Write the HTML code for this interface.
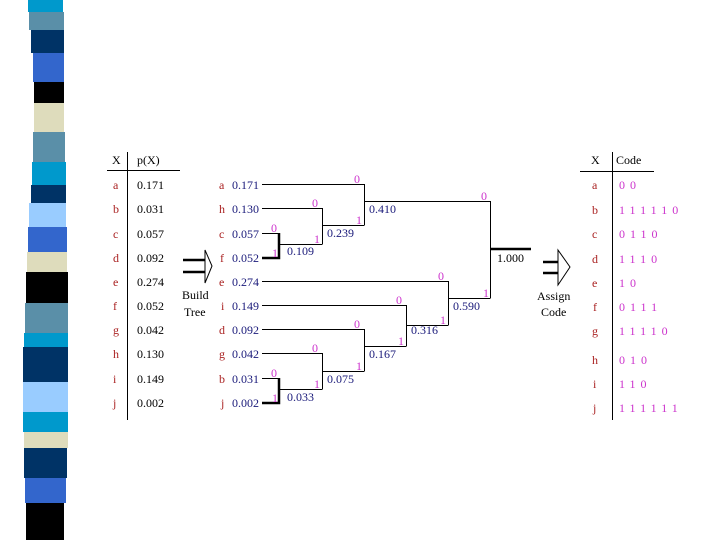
<!DOCTYPE html>
<html><head><style>
body{margin:0;width:720px;height:540px;background:#fff;overflow:hidden}
svg{display:block}
text{font-family:"Liberation Serif",serif;font-size:12px}
.r{fill:#aa2222}.n{fill:#1a1a7a}.m{fill:#cc33cc}.k{fill:#000}
</style></head><body>
<svg width="720" height="540" viewBox="0 0 720 540">
<g>
<rect x="28" y="0" width="35" height="12" fill="#0099cc"/>
<rect x="29" y="12" width="35" height="18" fill="#5a8fa8"/>
<rect x="31" y="30" width="33" height="23" fill="#003366"/>
<rect x="33" y="53" width="31" height="29" fill="#3366cc"/>
<rect x="34" y="82" width="30" height="21" fill="#000"/>
<rect x="34" y="103" width="30" height="29" fill="#dedcbc"/>
<rect x="33" y="132" width="32" height="30" fill="#5a8fa8"/>
<rect x="32" y="162" width="34" height="23" fill="#0099cc"/>
<rect x="31" y="185" width="35" height="18" fill="#003366"/>
<rect x="29" y="203" width="37" height="24" fill="#99ccff"/>
<rect x="28" y="227" width="39" height="25" fill="#3366cc"/>
<rect x="27" y="252" width="40" height="20" fill="#dedcbc"/>
<rect x="26" y="272" width="42" height="31" fill="#000"/>
<rect x="25" y="303" width="43" height="30" fill="#5a8fa8"/>
<rect x="24" y="333" width="44" height="14" fill="#0099cc"/>
<rect x="23" y="347" width="45" height="35" fill="#003366"/>
<rect x="23" y="382" width="45" height="30" fill="#99ccff"/>
<rect x="23" y="412" width="45" height="20" fill="#0099cc"/>
<rect x="24" y="432" width="44" height="16" fill="#dedcbc"/>
<rect x="24" y="448" width="43" height="30" fill="#003366"/>
<rect x="25" y="478" width="41" height="25" fill="#3366cc"/>
<rect x="26" y="503" width="38" height="37" fill="#000"/>
</g>
<g shape-rendering="crispEdges">
<line x1="107" y1="170.5" x2="180" y2="170.5" stroke="#000"/>
<line x1="127.5" y1="152" x2="127.5" y2="420" stroke="#000"/>
<line x1="580" y1="171.5" x2="654" y2="171.5" stroke="#000"/>
<line x1="612.5" y1="152" x2="612.5" y2="420" stroke="#000"/>
</g>
<!-- left table -->
<text x="112" y="164" class="k">X</text><text x="137" y="164" class="k">p(X)</text>
<g class="r">
<text x="113" y="189">a</text><text x="113" y="213">b</text><text x="113" y="238">c</text><text x="113" y="262">d</text><text x="113" y="286">e</text><text x="113" y="310">f</text><text x="113" y="334">g</text><text x="113" y="358">h</text><text x="113" y="383">i</text><text x="113" y="407">j</text>
</g>
<g class="k">
<text x="137" y="189">0.171</text><text x="137" y="213">0.031</text><text x="137" y="238">0.057</text><text x="137" y="262">0.092</text><text x="137" y="286">0.274</text><text x="137" y="310">0.052</text><text x="137" y="334">0.042</text><text x="137" y="358">0.130</text><text x="137" y="383">0.149</text><text x="137" y="407">0.002</text>
</g>
<!-- build arrow -->
<line x1="183" y1="260" x2="205" y2="260" stroke="#000" stroke-width="2.5"/>
<line x1="183" y1="272" x2="205" y2="272" stroke="#000" stroke-width="2.5"/>
<polygon points="205,250 212,266 205,283" fill="none" stroke="#000"/>
<text x="182" y="299" class="k">Build</text><text x="184" y="316" class="k">Tree</text>
<!-- tree labels -->
<g class="r">
<text x="219" y="189">a</text><text x="219" y="213">h</text><text x="219" y="238">c</text><text x="220" y="262">f</text><text x="219" y="286">e</text><text x="221" y="310">i</text><text x="219" y="334">d</text><text x="219" y="358">g</text><text x="219" y="383">b</text><text x="221" y="407">j</text>
</g>
<g class="n">
<text x="232" y="189">0.171</text><text x="232" y="213">0.130</text><text x="232" y="238">0.057</text><text x="232" y="262">0.052</text><text x="232" y="286">0.274</text><text x="232" y="310">0.149</text><text x="232" y="334">0.092</text><text x="232" y="358">0.042</text><text x="232" y="383">0.031</text><text x="232" y="407">0.002</text>
<text x="287" y="255">0.109</text><text x="327" y="237">0.239</text><text x="369" y="213">0.410</text>
<text x="287" y="401">0.033</text><text x="327" y="383">0.075</text><text x="369" y="358">0.167</text><text x="411" y="334">0.316</text><text x="453" y="310">0.590</text>
</g>
<text x="497" y="262" class="k">1.000</text>
<g stroke="#000" fill="none" shape-rendering="crispEdges">
<polyline points="262,184.5 364.5,184.5 364.5,225"/>
<polyline points="262,208.5 322.5,208.5 322.5,244"/>
<polyline points="279,244.5 322.5,244.5"/>
<polyline points="322.5,225.5 364.5,225.5"/>
<polyline points="364.5,201.5 490.5,201.5 490.5,298"/>
<polyline points="262,281.5 448.5,281.5 448.5,325"/>
<polyline points="262,305.5 406.5,305.5 406.5,346"/>
<polyline points="262,329.5 364.5,329.5 364.5,371"/>
<polyline points="262,353.5 322.5,353.5 322.5,389"/>
<polyline points="279,389.5 322.5,389.5"/>
<polyline points="322.5,371.5 364.5,371.5"/>
<polyline points="364.5,346.5 406.5,346.5"/>
<polyline points="406.5,325.5 448.5,325.5"/>
<polyline points="448.5,298.5 490.5,298.5"/>
<polyline points="262,233.5 279,233.5"/>
<polyline points="262,378.5 279,378.5"/>
</g>
<g stroke="#000" stroke-width="2.5" fill="none">
<polyline points="279,233 279,258 262,258"/>
<polyline points="279,378 279,403 262,403"/>
<line x1="490" y1="249" x2="531" y2="249"/>
</g>
<g class="m" font-size="11">
<text x="271" y="232">0</text><text x="272" y="257">1</text>
<text x="312" y="207">0</text><text x="314" y="243">1</text>
<text x="354" y="183">0</text><text x="356" y="224">1</text>
<text x="481" y="200">0</text><text x="483" y="297">1</text>
<text x="438" y="280">0</text><text x="440" y="324">1</text>
<text x="396" y="304">0</text><text x="398" y="345">1</text>
<text x="354" y="328">0</text><text x="356" y="370">1</text>
<text x="312" y="352">0</text><text x="314" y="388">1</text>
<text x="271" y="377">0</text><text x="272" y="402">1</text>
</g>
<!-- assign arrow -->
<line x1="543" y1="262" x2="558" y2="262" stroke="#000" stroke-width="2.5"/>
<line x1="543" y1="273" x2="558" y2="273" stroke="#000" stroke-width="2.5"/>
<polygon points="558,250 570,267 558,285" fill="none" stroke="#000"/>
<text x="537" y="300" class="k">Assign</text><text x="541" y="316" class="k">Code</text>
<!-- right table -->
<text x="591" y="164" class="k">X</text><text x="616" y="164" class="k">Code</text>
<g class="r">
<text x="592" y="189">a</text><text x="592" y="214">b</text><text x="592" y="238">c</text><text x="592" y="263">d</text><text x="592" y="287">e</text><text x="593" y="311">f</text><text x="592" y="335">g</text><text x="592" y="364">h</text><text x="593" y="388">i</text><text x="593" y="412">j</text>
</g>
<g class="m" letter-spacing="5">
<text x="619" y="189">00</text><text x="619" y="214">111110</text><text x="619" y="238">0110</text><text x="619" y="263">1110</text><text x="619" y="287">10</text><text x="619" y="311">0111</text><text x="619" y="335">11110</text><text x="619" y="364">010</text><text x="619" y="388">110</text><text x="619" y="412">111111</text>
</g>
</svg>
</body></html>
